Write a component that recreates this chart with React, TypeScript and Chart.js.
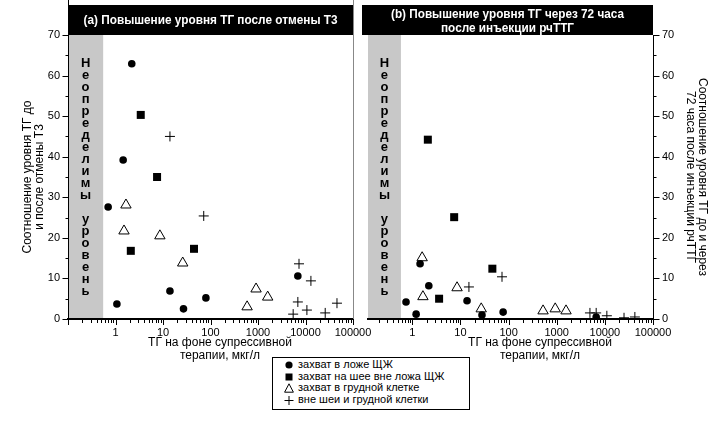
import React, { useEffect, useRef } from 'react';
import { Chart, registerables } from 'chart.js';
Chart.register(...registerables);

const FONT = '"Liberation Sans", Arial, Helvetica, sans-serif';

// ---- tick labels ----
const X_TICKS = [1, 10, 100, 1000, 10000, 100000];
const Y_TICKS = [0, 10, 20, 30, 40, 50, 60, 70];
const Y_MINOR_TICKS = [5, 15, 25, 35, 45, 55, 65];

// ---- texts ----
const SERIES_NAMES = [
  'захват в ложе ЩЖ',
  'захват на шее вне ложа ЩЖ',
  'захват в грудной клетке',
  'вне шеи и грудной клетки',
];
const BAND_TEXT = ['Н', 'е', 'о', 'п', 'р', 'е', 'д', 'е', 'л', 'и', 'м', 'ы', '', 'у', 'р', 'о', 'в', 'е', 'н', 'ь'];
const TITLE_A = ['(a) Повышение уровня ТГ после отмены Т3'];
const TITLE_B = ['(b) Повышение уровня ТГ через 72 часа', 'после инъекции рчТТГ'];
const Y_TITLE_A = ['Соотношение уровня ТГ до', 'и после отмены Т3'];
const Y_TITLE_B = ['Соотношение уровня ТГ до и через', '72 часа после инъекции рчТТГ'];
const X_TITLE = ['ТГ на фоне супрессивной', 'терапии, мкг/л'];

// ---- panel (a) data ----
const A_BED_X = [2.2, 1.45, 0.7, 1.07, 14, 27, 80, 6900];
const A_BED_Y = [62.9, 39.2, 27.6, 3.7, 6.9, 2.5, 5.2, 10.6];
const A_NECK_X = [3.4, 7.5, 2.1, 45];
const A_NECK_Y = [50.3, 35, 16.8, 17.3];
const A_CHEST_X = [1.66, 1.51, 8.6, 26, 910, 1600, 590];
const A_CHEST_Y = [28.1, 21.7, 20.5, 13.8, 7.4, 5.4, 3.0];
const A_OTHER_X = [14, 72, 7300, 13000, 6900, 5500, 10700, 26000, 46000];
const A_OTHER_Y = [45, 25.4, 13.6, 9.4, 4.2, 1.2, 2.2, 1.5, 3.9];

// ---- panel (b) data ----
const B_BED_X = [1.45, 2.2, 0.74, 1.2, 13.7, 28, 77, 6600];
const B_BED_Y = [13.6, 8.2, 4.2, 1.2, 4.5, 1.0, 1.7, 0.5];
const B_NECK_X = [2.1, 7.4, 46, 3.6];
const B_NECK_Y = [44.2, 25.1, 12.4, 5.0];
const B_CHEST_X = [1.6, 1.66, 8.5, 27, 520, 930, 1560];
const B_CHEST_Y = [15.1, 5.5, 7.7, 2.5, 2.0, 2.5, 2.0];
const B_OTHER_X = [15, 73, 4900, 6600, 11000, 25000, 42000];
const B_OTHER_Y = [7.9, 10.4, 1.5, 1.5, 0.8, 0.3, 0.5];

const zip = (xs: number[], ys: number[]) => xs.map((x, i) => ({ x, y: ys[i] }));

const panelDecor = {
  id: 'panelDecor',
  beforeDraw(chart: any, _a: any, o: any) {
    const { ctx, chartArea: ca } = chart;
    const xs = chart.scales.x;
    const x0 = Math.max(ca.left, xs.getPixelForValue(o.band[0]));
    const x1 = xs.getPixelForValue(o.band[1]);
    ctx.save();
    ctx.fillStyle = '#fff';
    ctx.fillRect(ca.left, ca.top, ca.right - ca.left, ca.bottom - ca.top);
    ctx.fillStyle = '#c8c8c8';
    ctx.fillRect(x0, ca.top, x1 - x0, ca.bottom - ca.top);
    ctx.fillStyle = '#000';
    ctx.font = `bold 13px ${FONT}`;
    ctx.textAlign = 'center';
    ctx.textBaseline = 'middle';
    BAND_TEXT.forEach((ch, i) => ctx.fillText(ch, (x0 + x1) / 2, o.letterTop + i * o.letterStep));
    ctx.restore();
  },
  afterDraw(chart: any, _a: any, o: any) {
    const { ctx, chartArea: ca } = chart;
    const xs = chart.scales.x;
    const ys = chart.scales.y;
    ctx.save();
    if (o.ySide === 'left') {
      ctx.strokeStyle = '#888';
      ctx.lineWidth = 1;
      ctx.beginPath();
      ctx.moveTo(Math.round(ca.right) + 0.5, 0);
      ctx.lineTo(Math.round(ca.right) + 0.5, ca.bottom);
      ctx.stroke();
      ctx.strokeStyle = '#000';
      ctx.beginPath();
      ctx.moveTo(Math.round(ca.left) + 0.5, 0);
      ctx.lineTo(Math.round(ca.left) + 0.5, ca.top);
      ctx.stroke();
    }
    // title bar
    const bl = ca.left - o.barExtend;
    ctx.fillStyle = '#000';
    ctx.fillRect(bl, o.barTop, ca.right - bl, ca.top - o.barTop);
    ctx.fillStyle = '#fff';
    ctx.font = `bold 12px ${FONT}`;
    ctx.textAlign = 'center';
    ctx.textBaseline = 'middle';
    o.title.forEach((line: string, i: number) => {
      const w = ctx.measureText(line).width;
      ctx.save();
      ctx.translate((bl + ca.right) / 2, o.titleY[i]);
      ctx.scale(o.titleWidths[i] / w, 1);
      ctx.fillText(line, 0, 0);
      ctx.restore();
    });
    // y ticks
    ctx.strokeStyle = '#000';
    ctx.lineWidth = 1;
    ctx.beginPath();
    const yx = o.ySide === 'left' ? Math.round(ca.left) + 0.5 : Math.round(ca.right) + 0.5;
    const dir = o.ySide === 'left' ? -1 : 1;
    const yTick = (v: number, len: number) => {
      const py = Math.round(ys.getPixelForValue(v)) + 0.5;
      ctx.moveTo(yx, py);
      ctx.lineTo(yx + dir * len, py);
    };
    Y_TICKS.forEach((v) => yTick(v, 6));
    Y_MINOR_TICKS.forEach((v) => yTick(v, 3));
    // x ticks (log decades with minor 2..9)
    const e0 = Math.floor(Math.log10(xs.min));
    const e1 = Math.floor(Math.log10(xs.max));
    for (let e = e0; e <= e1; e++) {
      for (let m = 1; m <= 9; m++) {
        const v = m * Math.pow(10, e);
        if (v < xs.min * 0.999 || v > xs.max * 1.001) continue;
        const px = Math.round(xs.getPixelForValue(v)) + 0.5;
        ctx.moveTo(px, ca.bottom + 1);
        ctx.lineTo(px, ca.bottom + 1 + (m === 1 ? 5 : 3));
      }
    }
    ctx.stroke();
    ctx.restore();
  },
};

function makeConfig(p: any): any {
  const tickFont = { family: FONT, size: 11 };
  return {
    type: 'scatter',
    data: {
      datasets: [
        {
          label: SERIES_NAMES[0], data: zip(p.series[0][0], p.series[0][1]),
          pointStyle: 'circle', pointRadius: 3.8, pointBorderWidth: 0,
          pointBackgroundColor: '#000', pointBorderColor: '#000', backgroundColor: '#000', borderColor: '#000',
        },
        {
          label: SERIES_NAMES[1], data: zip(p.series[1][0], p.series[1][1]),
          pointStyle: 'rect', pointRadius: 5.66, pointBorderWidth: 0,
          pointBackgroundColor: '#000', pointBorderColor: '#000', backgroundColor: '#000', borderColor: '#000',
        },
        {
          label: SERIES_NAMES[2], data: zip(p.series[2][0], p.series[2][1]),
          pointStyle: 'triangle', pointRadius: 6, pointBorderWidth: 1,
          pointBackgroundColor: '#fff', pointBorderColor: '#000', backgroundColor: '#fff', borderColor: '#000',
        },
        {
          label: SERIES_NAMES[3], data: zip(p.series[3][0], p.series[3][1]),
          pointStyle: 'cross', pointRadius: 5, pointBorderWidth: 1,
          pointBackgroundColor: '#000', pointBorderColor: '#000', backgroundColor: '#000', borderColor: '#000',
        },
      ],
    },
    options: {
      animation: false,
      responsive: false,
      devicePixelRatio: 1,
      events: [],
      layout: { padding: p.padding },
      plugins: {
        legend: { display: false },
        tooltip: { enabled: false },
        panelDecor: {
          band: p.band, ySide: p.ySide, title: p.title, titleWidths: p.titleWidths, titleY: p.titleY,
          barTop: 5, barExtend: p.barExtend, letterTop: 63, letterStep: 12,
        },
      },
      scales: {
        x: {
          type: 'logarithmic',
          min: p.xMin,
          max: 100000,
          afterBuildTicks: (s: any) => { s.ticks = X_TICKS.map((v) => ({ value: v })); },
          afterFit: (s: any) => { s.height = 103; },
          grid: { display: false, drawTicks: false },
          border: { display: true, color: '#000', width: 2 },
          ticks: {
            autoSkip: false, maxRotation: 0, padding: 7, color: '#000', font: tickFont,
            callback: (v: any) => String(v),
          },
        },
        y: {
          type: 'linear',
          position: p.ySide,
          min: 0,
          max: 70,
          afterBuildTicks: (s: any) => { s.ticks = Y_TICKS.map((v) => ({ value: v })); },
          afterFit: (s: any) => { s.width = p.yWidth; },
          grid: { display: false, drawTicks: false },
          border: { display: true, color: '#000', width: 1 },
          ticks: { padding: p.tickPadding, color: '#000', font: tickFont, callback: (v: any) => String(v) },
          title: {
            display: true,
            text: p.yTitle,
            color: '#000',
            font: { family: FONT, size: 12, lineHeight: '12px' },
            padding: { top: p.titlePadding, bottom: 0 },
          },
        },
      },
    },
    plugins: [panelDecor],
  };
}

const PANEL_A = {
  series: [[A_BED_X, A_BED_Y], [A_NECK_X, A_NECK_Y], [A_CHEST_X, A_CHEST_Y], [A_OTHER_X, A_OTHER_Y]],
  xMin: 0.1, band: [0.1, 0.55], ySide: 'left', yTitle: Y_TITLE_A, title: TITLE_A,
  padding: { left: 0, right: 367, top: 35, bottom: 0 }, yWidth: 68, titlePadding: 22, tickPadding: 8,
  titleWidths: [254], titleY: [21], barExtend: 0,
};

const PANEL_B = {
  series: [[B_BED_X, B_BED_Y], [B_NECK_X, B_NECK_Y], [B_CHEST_X, B_CHEST_Y], [B_OTHER_X, B_OTHER_Y]],
  xMin: 0.12, band: [0.12, 0.58], ySide: 'right', yTitle: Y_TITLE_B, title: TITLE_B,
  padding: { left: 368, right: 0, top: 35, bottom: 0 }, yWidth: 67, titlePadding: 12, tickPadding: 9,
  titleWidths: [233, 133], titleY: [15, 29], barExtend: 6,
};

const LegendIcon = ({ i }: { i: number }) => (
  <svg width={10} height={10} style={{ position: 'absolute', left: 11, top: 0 }}>
    {i === 0 && <circle cx={5} cy={5} r={3.6} fill="#000" />}
    {i === 1 && <rect x={1.5} y={1.5} width={7} height={7} fill="#000" />}
    {i === 2 && <polygon points="5,0.8 9.4,9.2 0.6,9.2" fill="#fff" stroke="#000" strokeWidth={1} />}
    {i === 3 && <path d="M0.5 5.5H9.5M5 1V10" stroke="#000" strokeWidth={1} fill="none" />}
  </svg>
);

export default function App() {
  const refA = useRef<HTMLCanvasElement>(null);
  const refB = useRef<HTMLCanvasElement>(null);
  useEffect(() => {
    document.body.style.margin = '0';
    const a = new Chart(refA.current as HTMLCanvasElement, makeConfig(PANEL_A));
    const b = new Chart(refB.current as HTMLCanvasElement, makeConfig(PANEL_B));
    return () => { a.destroy(); b.destroy(); };
  }, []);
  const xTitle = (cx: number) => (
    <div style={{
      position: 'absolute', left: cx - 100, top: 336, width: 200, textAlign: 'center',
      font: `12px ${FONT}`, lineHeight: '13px', color: '#000',
    }}>
      {X_TITLE.map((t, i) => <div key={i}>{t}</div>)}
    </div>
  );
  return (
    <div style={{ position: 'relative', width: 720, height: 422, background: '#fff', overflow: 'hidden' }}>
      <canvas ref={refA} width={720} height={422} style={{ position: 'absolute', left: 0, top: 0 }} />
      <canvas ref={refB} width={720} height={422} style={{ position: 'absolute', left: 0, top: 0 }} />
      {xTitle(220)}
      {xTitle(540)}
      <div style={{
        position: 'absolute', left: 272, top: 357, width: 198, height: 53, boxSizing: 'border-box',
        border: '1px solid #000', background: '#fff', font: `11px ${FONT}`, color: '#000',
      }}>
        {SERIES_NAMES.map((n, i) => (
          <div key={i} style={{ position: 'absolute', left: 0, top: 2 + i * 11.5, height: 10, width: 196 }}>
            <LegendIcon i={i} />
            <span style={{ position: 'absolute', left: 25, top: -2, lineHeight: '13px', whiteSpace: 'nowrap' }}>{n}</span>
          </div>
        ))}
      </div>
    </div>
  );
}
